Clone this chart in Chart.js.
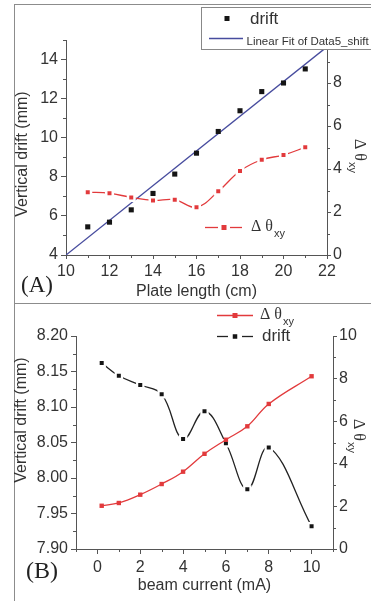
<!DOCTYPE html>
<html>
<head>
<meta charset="utf-8">
<script src="https://cdn.jsdelivr.net/npm/chart.js@4.4.1/dist/chart.umd.min.js"></script>
<style>
html,body{margin:0;padding:0;background:#fff;}
body{width:371px;height:601px;position:relative;overflow:hidden;}
#frame{position:absolute;left:14px;top:4px;width:420px;height:640px;border-left:1px solid #8c8c8c;border-top:1px solid #8c8c8c;}
#sep{position:absolute;left:14px;top:303px;width:420px;height:0;border-top:1px solid #8c8c8c;}
#wa{position:absolute;left:0;top:0;width:371px;height:302px;}
#wb{position:absolute;left:0;top:304px;width:371px;height:297px;}
canvas{display:block;}
</style>
</head>
<body>
<div id="frame"></div>
<div id="sep"></div>
<div id="wa"><canvas id="ca" width="371" height="302"></canvas></div>
<div id="wb"><canvas id="cb" width="371" height="297"></canvas></div>
<script>
// ---------- data ----------
// Panel A
const plateLength = [11, 12, 13, 14, 15, 16, 17, 18, 19, 20, 21];
const driftA      = [5.44, 5.68, 6.31, 7.15, 8.14, 9.21, 10.32, 11.38, 12.36, 12.80, 13.52];
const dThetaA     = [2.92, 2.87, 2.68, 2.54, 2.57, 2.22, 2.96, 3.91, 4.43, 4.65, 5.01];
const fitX        = [10, 22];
const fitY        = [4.0, 14.65];
const ticksAx     = [10, 12, 14, 16, 18, 20, 22];
const ticksAy     = [4, 6, 8, 10, 12, 14];
const ticksAy2    = [0, 2, 4, 6, 8, 10];
// Panel B
const beamCurrent = [0.2, 1, 2, 3, 4, 5, 6, 7, 8, 10];
const driftB      = [8.162, 8.144, 8.131, 8.118, 8.055, 8.094, 8.049, 7.984, 8.043, 7.932];
const dThetaB     = [2.03, 2.16, 2.55, 3.05, 3.63, 4.47, 5.13, 5.76, 6.81, 8.11];
const ticksBx     = [0, 2, 4, 6, 8, 10];
const ticksBy     = [7.90, 7.95, 8.00, 8.05, 8.10, 8.15, 8.20];
const ticksBy2    = [0, 2, 4, 6, 8, 10];
// text
const titleAx = 'Plate length (cm)';
const titleBx = 'beam current (mA)';
const titleY  = 'Vertical drift (mm)';
const legFit  = 'Linear Fit of Data5_shift';

// ---------- styles ----------
const FONT  = '"Liberation Sans", Arial, Helvetica, sans-serif';
const SERIF = '"Liberation Serif", "Times New Roman", Times, serif';
const RED = '#e23a3c', BLUE = '#474c9e', BLACK = '#151515', AX = '#555', TXT = '#333';

function pts(xs, ys){ return xs.map((x, i) => ({x: x, y: ys[i]})); }

function scaleCfg(pos, min, max, step, labels, digits, tl, pad, fit){
  return {
    type: 'linear', position: pos, min: min, max: max,
    afterFit: fit,
    grid: {display: true, drawOnChartArea: false, drawTicks: true, tickLength: tl,
           color: AX, lineWidth: 1, tickWidth: 1,
           tickColor: ctx => (ctx.tick && ctx.tick.label === '') ? 'rgba(0,0,0,0)' : AX},
    border: {display: true, color: AX, width: 1},
    ticks: {stepSize: step, autoSkip: false, maxRotation: 0, minRotation: 0, color: TXT, padding: pad,
            font: {family: FONT, size: 16},
            callback: function(v){
              const h = labels.find(l => Math.abs(l - v) < 1e-6);
              return h === undefined ? '' : h.toFixed(digits);
            }},
    title: {display: false}
  };
}

// short minor ticks at the unlabeled tick values of each scale
function minorTicks(chart){
  const c = chart.ctx;
  c.save(); c.strokeStyle = AX; c.lineWidth = 1;
  ['x', 'y', 'y2'].forEach(id => {
    const s = chart.scales[id];
    s.ticks.forEach(t => {
      if (t.label !== '') return;
      const p = Math.round(s.getPixelForValue(t.value)) + 0.5;
      c.beginPath();
      if (id === 'x') { c.moveTo(p, s.top); c.lineTo(p, s.top + 3); }
      else if (id === 'y') { c.moveTo(s.right, p); c.lineTo(s.right - 3, p); }
      else { c.moveTo(s.left, p); c.lineTo(s.left + 3, p); }
      c.stroke();
    });
  });
  c.restore();
}

function drawDTheta(c, x, y, size, sub){
  c.textAlign = 'left'; c.textBaseline = 'middle';
  c.font = size + 'px ' + SERIF;
  c.fillText('Δ θ', x, y);
  const w = c.measureText('Δ θ').width;
  c.font = sub + 'px ' + FONT;
  c.fillText('xy', x + w + 1, y + size * 0.45);
}

function rightTitle(c, cx, cy){
  c.save();
  c.translate(cx, cy); c.rotate(Math.PI / 2);
  c.fillStyle = TXT; c.textBaseline = 'middle'; c.textAlign = 'left';
  c.font = '16px ' + SERIF; const w1 = c.measureText('Δ θ').width;
  c.font = '11px ' + FONT;  const w2 = c.measureText('xy').width;
  const x0 = -(w1 + 1 + w2) / 2;
  c.font = '16px ' + SERIF; c.fillText('Δ θ', x0, 0);
  c.font = '11px ' + FONT;  c.fillText('xy', x0 + w1 + 1, 7);
  c.restore();
}

function leftTitle(c, cx, cy){
  c.save();
  c.translate(cx, cy); c.rotate(-Math.PI / 2);
  c.fillStyle = TXT; c.textAlign = 'center'; c.textBaseline = 'middle';
  c.font = '16px ' + FONT;
  c.fillText(titleY, 0, 0);
  c.restore();
}

function square(c, x, y, s, col){
  c.fillStyle = col; c.fillRect(x - s / 2, y - s / 2, s, s);
}

function hline(c, x1, x2, y, col, w){
  c.strokeStyle = col; c.lineWidth = w;
  c.beginPath(); c.moveTo(x1, y); c.lineTo(x2, y); c.stroke();
}

Chart.defaults.font.family = FONT;

// ---------- panel A ----------
const decoA = {
  id: 'decoA',
  afterDraw(chart){
    const c = chart.ctx;
    minorTicks(chart);
    c.save();
    leftTitle(c, 23, 154);
    rightTitle(c, 359, 156);
    // panel label
    c.fillStyle = '#222'; c.font = '23px ' + SERIF; c.textAlign = 'left'; c.textBaseline = 'middle';
    c.fillText('(A)', 21, 286);
    // legend box (top right)
    c.fillStyle = '#fff'; c.fillRect(201.5, 7.5, 180, 42);
    c.strokeStyle = '#888'; c.lineWidth = 1; c.strokeRect(201.5, 7.5, 180, 42);
    square(c, 227, 18.5, 5, BLACK);
    c.fillStyle = TXT; c.font = '17px ' + FONT; c.textAlign = 'left'; c.textBaseline = 'middle';
    c.fillText('drift', 250, 19);
    hline(c, 209, 243, 38.5, BLUE, 1.3);
    c.fillStyle = TXT; c.font = '11.5px ' + FONT;
    c.fillText(legFit, 246.5, 41.5);
    // in-plot legend for delta theta
    hline(c, 205, 218, 227.5, RED, 1.3);
    hline(c, 230, 242, 227.5, RED, 1.3);
    square(c, 224, 227.5, 5, RED);
    c.fillStyle = TXT;
    drawDTheta(c, 251, 227, 16, 11);
    c.restore();
  }
};

new Chart(document.getElementById('ca'), {
  type: 'line',
  data: {
    datasets: [
      {label: 'Linear Fit of Data5_shift', data: pts(fitX, fitY), yAxisID: 'y',
       borderColor: BLUE, borderWidth: 1.3, pointRadius: 0, tension: 0, order: 3},
      {label: 'drift', data: pts(plateLength, driftA), yAxisID: 'y', showLine: false,
       pointStyle: 'rect', pointRadius: 3.6, pointBackgroundColor: BLACK, pointBorderColor: BLACK,
       pointBorderWidth: 0, order: 1},
      {label: 'Δθxy', data: pts(plateLength, dThetaA), yAxisID: 'y2',
       borderColor: RED, borderWidth: 1.3, tension: 0.4,
       pointStyle: 'rect', pointRadius: 4.6, pointBackgroundColor: RED, pointBorderColor: '#fff',
       pointBorderWidth: 2.5, order: 2}
    ]
  },
  options: {
    responsive: false, animation: false, devicePixelRatio: 1,
    layout: {padding: {top: 40, left: 0, right: 0, bottom: 0}},
    plugins: {legend: {display: false}, tooltip: {enabled: false}},
    scales: {
      x: Object.assign(scaleCfg('bottom', 10, 22, 1, ticksAx, 0, 4, 3, s => { s.height = 47; }),
        {title: {display: true, text: titleAx, color: TXT, font: {family: FONT, size: 16}, padding: {top: 0, bottom: 1}}}),
      y: scaleCfg('left', 4, 15, 1, ticksAy, 0, 5, 3, s => { s.width = 66; }),
      y2: scaleCfg('right', 0, 10, 1, ticksAy2, 0, 4, 2, s => { s.width = 44; })
    }
  },
  plugins: [decoA]
});

// ---------- panel B ----------
const decoB = {
  id: 'decoB',
  afterDraw(chart){
    const c = chart.ctx;
    const o = 304; // canvas top offset in page
    minorTicks(chart);
    c.save();
    leftTitle(c, 22, 420 - o);
    rightTitle(c, 358, 436 - o);
    c.fillStyle = '#222'; c.font = '24px ' + SERIF; c.textAlign = 'left'; c.textBaseline = 'middle';
    c.fillText('(B)', 26, 572 - o);
    // legend
    hline(c, 217, 253, 315.5 - o, RED, 1.3);
    square(c, 235, 315.5 - o, 5, RED);
    c.fillStyle = TXT;
    drawDTheta(c, 260, 315 - o, 16, 11);
    hline(c, 217, 228, 336.5 - o, '#222', 1.3);
    hline(c, 242, 253, 336.5 - o, '#222', 1.3);
    square(c, 235, 336.5 - o, 4.5, BLACK);
    c.fillStyle = TXT; c.font = '17px ' + FONT; c.textAlign = 'left'; c.textBaseline = 'middle';
    c.fillText('drift', 262, 336 - o);
    c.restore();
  }
};

new Chart(document.getElementById('cb'), {
  type: 'line',
  data: {
    datasets: [
      {label: 'Δθxy', data: pts(beamCurrent, dThetaB), yAxisID: 'y2',
       borderColor: RED, borderWidth: 1.3, tension: 0.4,
       pointStyle: 'rect', pointRadius: 3.1, pointBackgroundColor: RED, pointBorderColor: RED,
       pointBorderWidth: 0, order: 1},
      {label: 'drift', data: pts(beamCurrent, driftB), yAxisID: 'y',
       borderColor: '#222', borderWidth: 1.3, tension: 0.4,
       pointStyle: 'rect', pointRadius: 4.4, pointBackgroundColor: BLACK, pointBorderColor: '#fff',
       pointBorderWidth: 2.2, order: 2}
    ]
  },
  options: {
    responsive: false, animation: false, devicePixelRatio: 1,
    layout: {padding: {top: 32, left: 0, right: 0, bottom: 0}},
    plugins: {legend: {display: false}, tooltip: {enabled: false}},
    scales: {
      x: Object.assign(scaleCfg('bottom', -1, 11, 1, ticksBx, 0, 5, 4, s => { s.height = 52; }),
        {title: {display: true, text: titleBx, color: TXT, font: {family: FONT, size: 16}, padding: {top: 0, bottom: 6}}}),
      y: scaleCfg('left', 7.9, 8.2, 0.025, ticksBy, 2, 5, 3, s => { s.width = 76; }),
      y2: scaleCfg('right', 0, 10, 1, ticksBy2, 0, 4, 2, s => { s.width = 38; })
    }
  },
  plugins: [decoB]
});
</script>
</body>
</html>
